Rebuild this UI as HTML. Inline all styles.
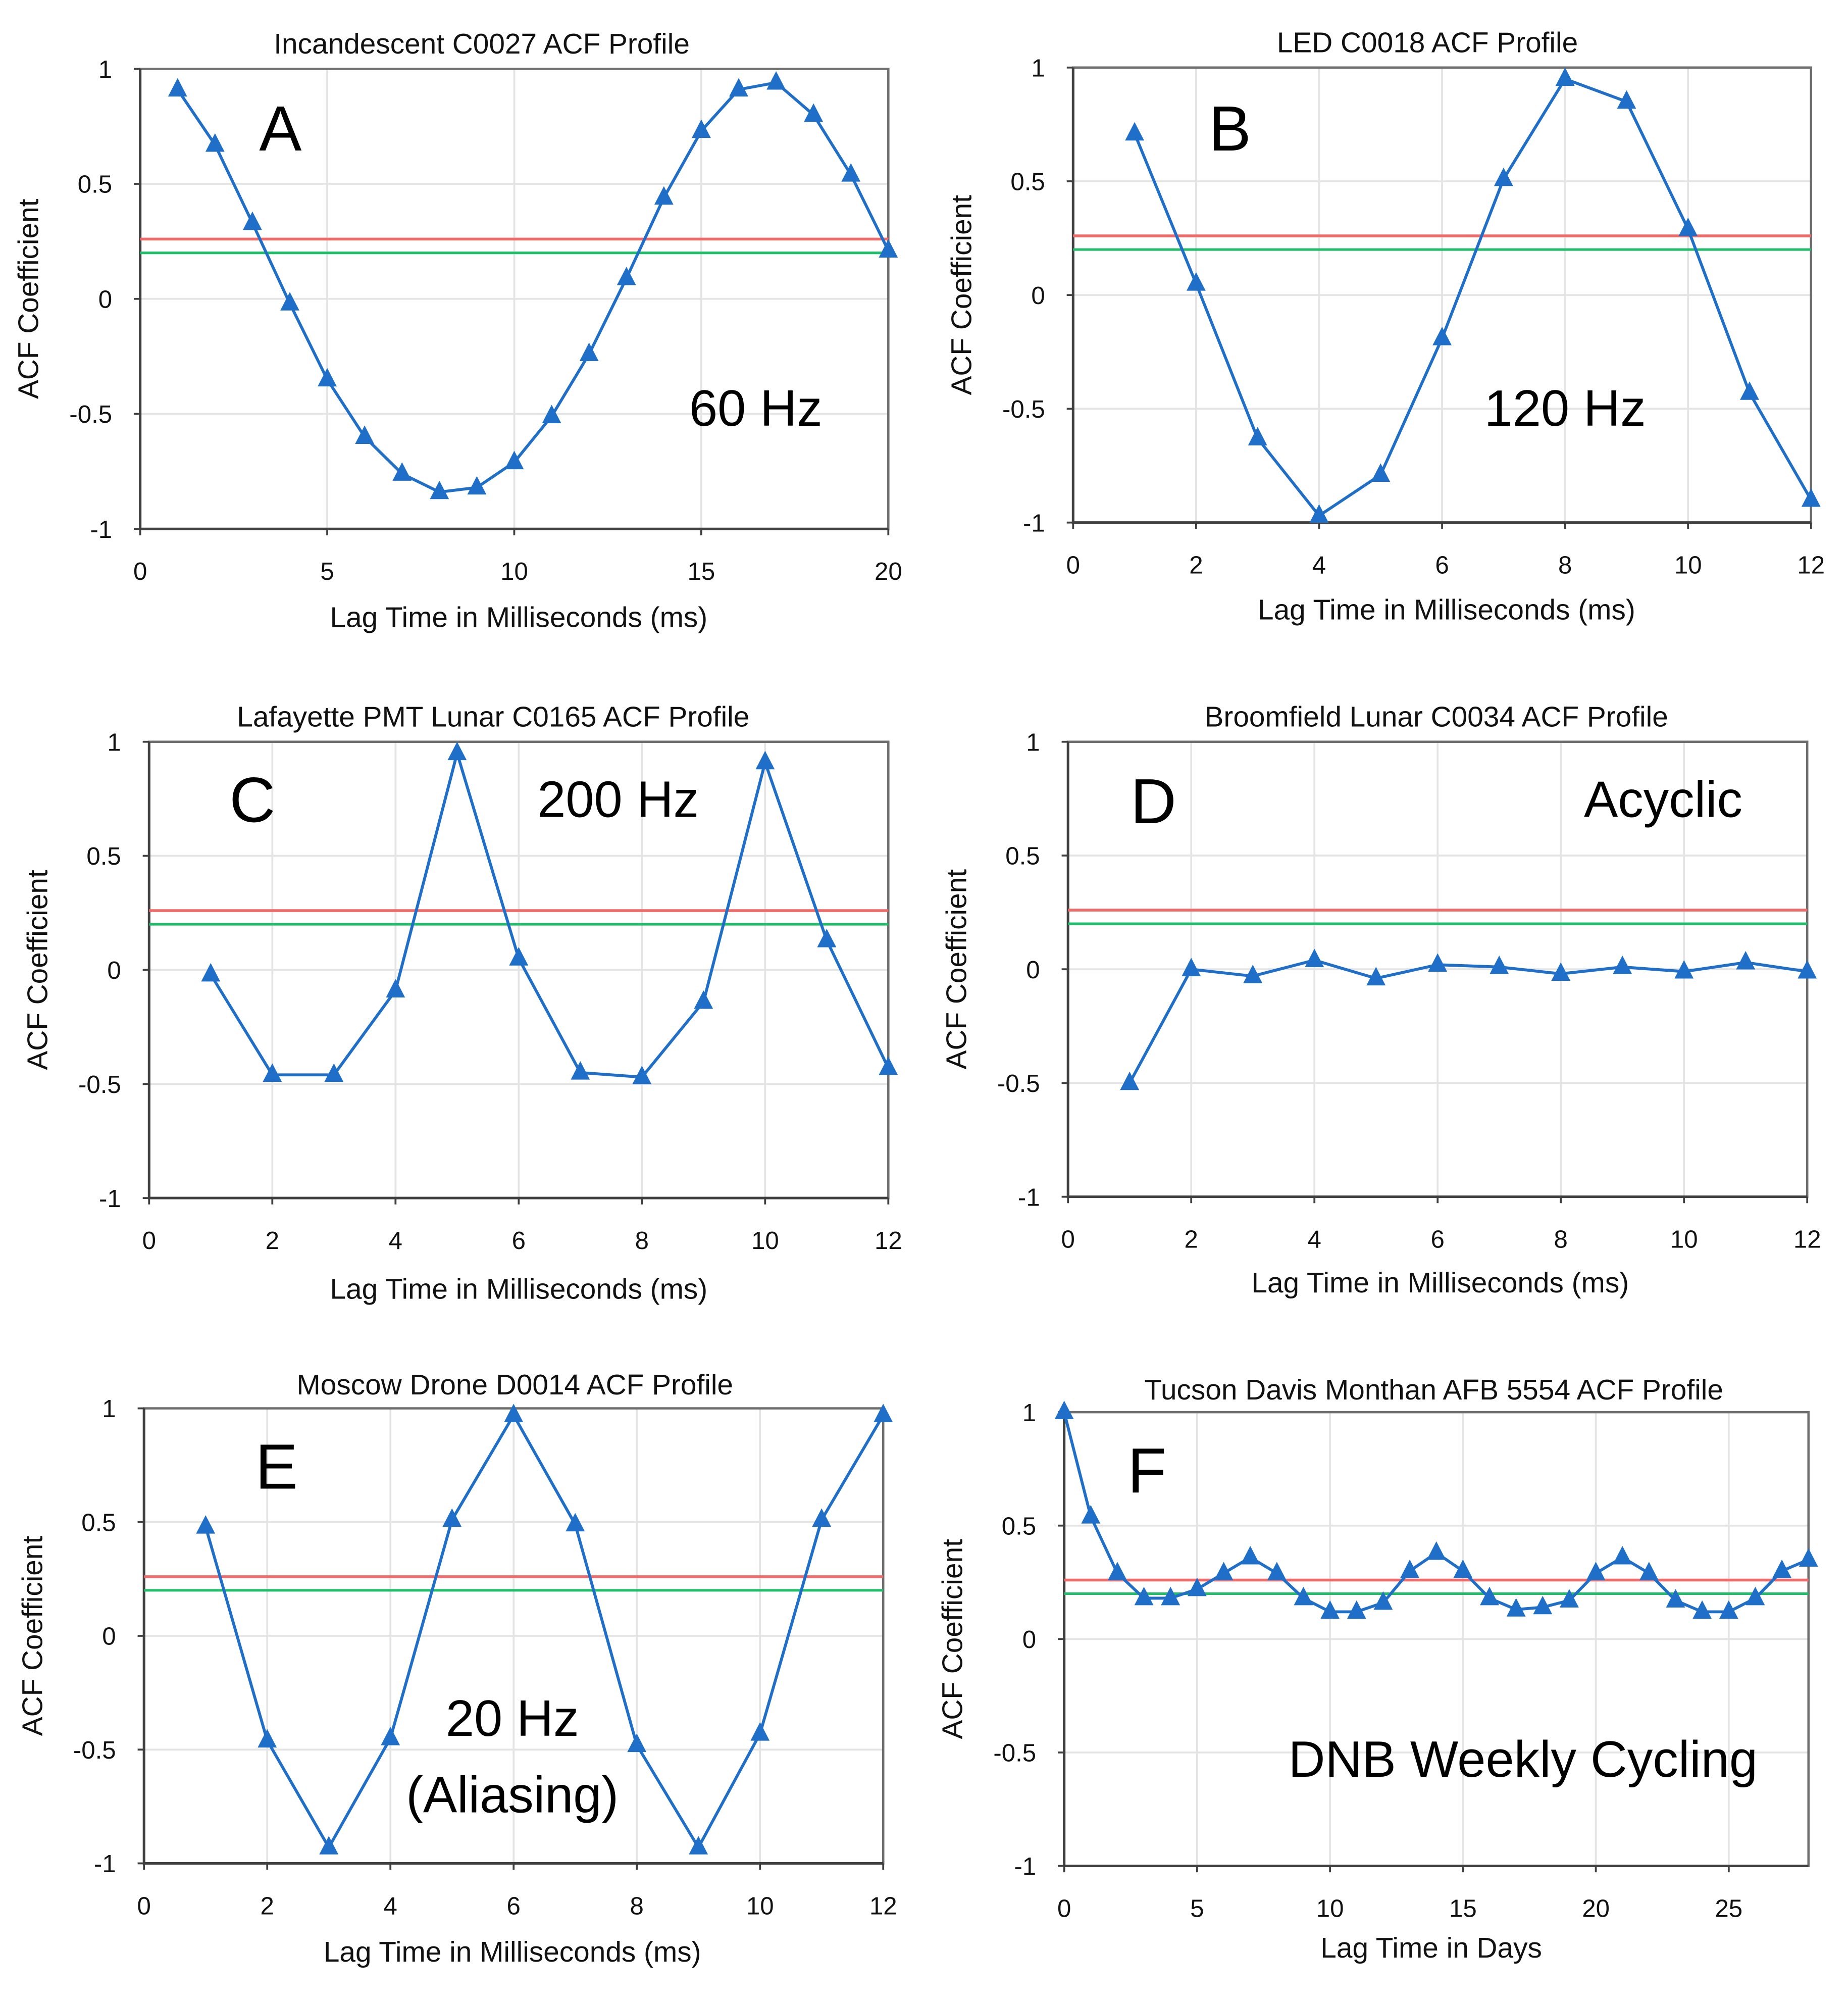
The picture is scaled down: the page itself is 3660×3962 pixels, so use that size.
<!DOCTYPE html>
<html><head><meta charset="utf-8"><style>
html,body{margin:0;padding:0;background:#fff;}
svg{display:block;font-family:"Liberation Sans",sans-serif;}
</style></head><body>
<svg id="chart" width="3660" height="3962" viewBox="0 0 1450 1570" preserveAspectRatio="none" xmlns="http://www.w3.org/2000/svg"></svg>
<script>
const xA=[1,2,3,4,5,6,7,8,9,10,11,12,13,14,15,16,17,18,19,20];
const yA=[0.91,0.67,0.33,-0.02,-0.35,-0.6,-0.76,-0.84,-0.82,-0.71,-0.51,-0.24,0.09,0.44,0.73,0.91,0.94,0.80,0.54,0.21];
const xB=[1,2,3,4,5,6,7,8,9,10,11,12];
const yB=[0.71,0.05,-0.63,-0.97,-0.79,-0.19,0.51,0.95,0.85,0.29,-0.43,-0.90];
const xC=[1,2,3,4,5,6,7,8,9,10,11,12];
const yC=[-0.02,-0.46,-0.46,-0.09,0.95,0.05,-0.45,-0.47,-0.14,0.91,0.13,-0.43];
const xD=[1,2,3,4,5,6,7,8,9,10,11,12];
const yD=[-0.50,0.0,-0.03,0.04,-0.04,0.02,0.01,-0.02,0.01,-0.01,0.03,-0.01];
const xE=[1,2,3,4,5,6,7,8,9,10,11,12];
const yE=[0.48,-0.46,-0.93,-0.45,0.51,0.97,0.49,-0.48,-0.93,-0.43,0.51,0.97];
const xF=[0,1,2,3,4,5,6,7,8,9,10,11,12,13,14,15,16,17,18,19,20,21,22,23,24,25,26,27,28];
const yF=[1.0,0.54,0.29,0.18,0.18,0.22,0.29,0.36,0.29,0.18,0.12,0.12,0.16,0.30,0.38,0.30,0.18,0.13,0.14,0.17,0.29,0.36,0.29,0.17,0.12,0.12,0.18,0.30,0.35];
const yTicks=[1,0.5,0,-0.5,-1];
const yTickLabels=["1","0.5","0","-0.5","-1"];
const xTicks12=[0,2,4,6,8,10,12];
const xTicks20=[0,5,10,15,20];
const xTicks28=[0,5,10,15,20,25];
const redLevel=0.26, greenLevel=0.2;

const NS="http://www.w3.org/2000/svg";
const svg=document.getElementById('chart');
function mk(tag,attrs,parent,text){const e=document.createElementNS(NS,tag);for(const k in attrs)e.setAttribute(k,attrs[k]);if(text!==undefined)e.textContent=text;(parent||svg).appendChild(e);return e;}

const panels=[
 {id:'a',xs:xA,ys:yA,xmax:20,ticks:xTicks20,L:110,R:697,T:54,B:415,title:'Incandescent C0027 ACF Profile',tx:378,ty:42,xl:'Lag Time in Milliseconds (ms)',xlx:407,xly:492,letter:'A',lx:220,ly:118,note:['60 Hz'],nx:593,ny:334},
 {id:'b',xs:xB,ys:yB,xmax:12,ticks:xTicks12,L:842,R:1421,T:53,B:410,title:'LED C0018 ACF Profile',tx:1120,ty:41,xl:'Lag Time in Milliseconds (ms)',xlx:1135,xly:486,letter:'B',lx:965,ly:118,note:['120 Hz'],nx:1228,ny:334},
 {id:'c',xs:xC,ys:yC,xmax:12,ticks:xTicks12,L:117,R:697,T:582,B:940,title:'Lafayette PMT Lunar C0165 ACF Profile',tx:387,ty:570,xl:'Lag Time in Milliseconds (ms)',xlx:407,xly:1019,letter:'C',lx:198,ly:645,note:['200 Hz'],nx:485,ny:641},
 {id:'d',xs:xD,ys:yD,xmax:12,ticks:xTicks12,L:838,R:1418,T:582,B:939,title:'Broomfield Lunar C0034 ACF Profile',tx:1127,ty:570,xl:'Lag Time in Milliseconds (ms)',xlx:1130,xly:1014,letter:'D',lx:905,ly:646,note:['Acyclic'],nx:1305,ny:641},
 {id:'e',xs:xE,ys:yE,xmax:12,ticks:xTicks12,L:113,R:693,T:1105,B:1462,title:'Moscow Drone D0014 ACF Profile',tx:404,ty:1094,xl:'Lag Time in Milliseconds (ms)',xlx:402,xly:1539,letter:'E',lx:217,ly:1168,note:['20 Hz','(Aliasing)'],nx:402,ny:1362},
 {id:'f',xs:xF,ys:yF,xmax:28,ticks:xTicks28,L:835,R:1419,T:1108,B:1464,title:'Tucson Davis Monthan AFB 5554 ACF Profile',tx:1125,ty:1098,xl:'Lag Time in Days',xlx:1123,xly:1536,letter:'F',lx:900,ly:1171,note:['DNB Weekly Cycling'],nx:1195,ny:1394}
];

panels.forEach(p=>{
 const g=mk('g',{});
 
 
 const X=v=>p.L+(v/p.xmax)*(p.R-p.L);
 const Y=v=>p.B-((v+1)/2)*(p.B-p.T);
 p.ticks.forEach(t=>{const l=mk('line',{x1:X(t),x2:X(t),y1:p.T,y2:p.B,stroke:'#e4e4e4','stroke-width':1.5},g);
   });
 yTicks.forEach(t=>{const l=mk('line',{x1:p.L,x2:p.R,y1:Y(t),y2:Y(t),stroke:'#e4e4e4','stroke-width':1.5},g);
   });
 const fr=mk('rect',{x:p.L,y:p.T,width:p.R-p.L,height:p.B-p.T,fill:'none',stroke:'#6e6e6e','stroke-width':1.8},g);
 
 const ax=mk('path',{d:`M${p.L} ${p.T}V${p.B}H${p.R}`,fill:'none',stroke:'#404040','stroke-width':2},g);
 
 const rl=mk('line',{x1:p.L,x2:p.R,y1:Y(redLevel),y2:Y(redLevel),stroke:'#f06a6a','stroke-width':2.2},g);
 
 const gl=mk('line',{x1:p.L,x2:p.R,y1:Y(greenLevel),y2:Y(greenLevel),stroke:'#1fbf6a','stroke-width':2},g);
 
 p.ticks.forEach(t=>{
   mk('line',{x1:X(t),x2:X(t),y1:p.B,y2:p.B+5,stroke:'#404040','stroke-width':1.5},g);
   const tl=mk('text',{x:X(t),y:p.B+40,'font-size':19.5,'text-anchor':'middle',fill:'#111'},g,String(t));
   
 });
 yTicks.forEach((t,i)=>{
   mk('line',{x1:p.L-5,x2:p.L,y1:Y(t),y2:Y(t),stroke:'#404040','stroke-width':1.5},g);
   const tl=mk('text',{x:p.L-22,y:Y(t)+7,'font-size':19.5,'text-anchor':'end',fill:'#111'},g,yTickLabels[i]);
   
 });
 const d=p.xs.map((x,i)=>(i?'L':'M')+X(x).toFixed(2)+' '+Y(p.ys[i]).toFixed(2)).join('');
 const ln=mk('path',{d:d,fill:'none',stroke:'#1f6fc8','stroke-width':2.3},g);
 
 p.xs.forEach((x,i)=>{const cx=X(x),cy=Y(p.ys[i]);
   const m=mk('path',{d:`M${cx} ${cy-9}L${cx+7.5} ${cy+5.5}L${cx-7.5} ${cy+5.5}Z`,fill:'#1f6fc8'},g);
   });
 const ti=mk('text',{x:p.tx,y:p.ty,'font-size':22.5,'text-anchor':'middle',fill:'#111'},g,p.title);
 
 const xl=mk('text',{x:p.xlx,y:p.xly,'font-size':22.5,'text-anchor':'middle',fill:'#111'},g,p.xl);
 
 const cy=(p.T+p.B)/2, lx=p.L-80;
 const yl=mk('text',{x:lx,y:cy,'font-size':22.5,'text-anchor':'middle',fill:'#111',transform:`rotate(-90 ${lx} ${cy})`},g,'ACF Coefficient');
 
 const le=mk('text',{x:p.lx,y:p.ly,'font-size':50,'text-anchor':'middle',fill:'#000'},g,p.letter);
 
 p.note.forEach((n,i)=>{const t=mk('text',{x:p.nx,y:p.ny+i*60,'font-size':40,'text-anchor':'middle',fill:'#000'},g,n);
   });
});
</script>
</body></html>
